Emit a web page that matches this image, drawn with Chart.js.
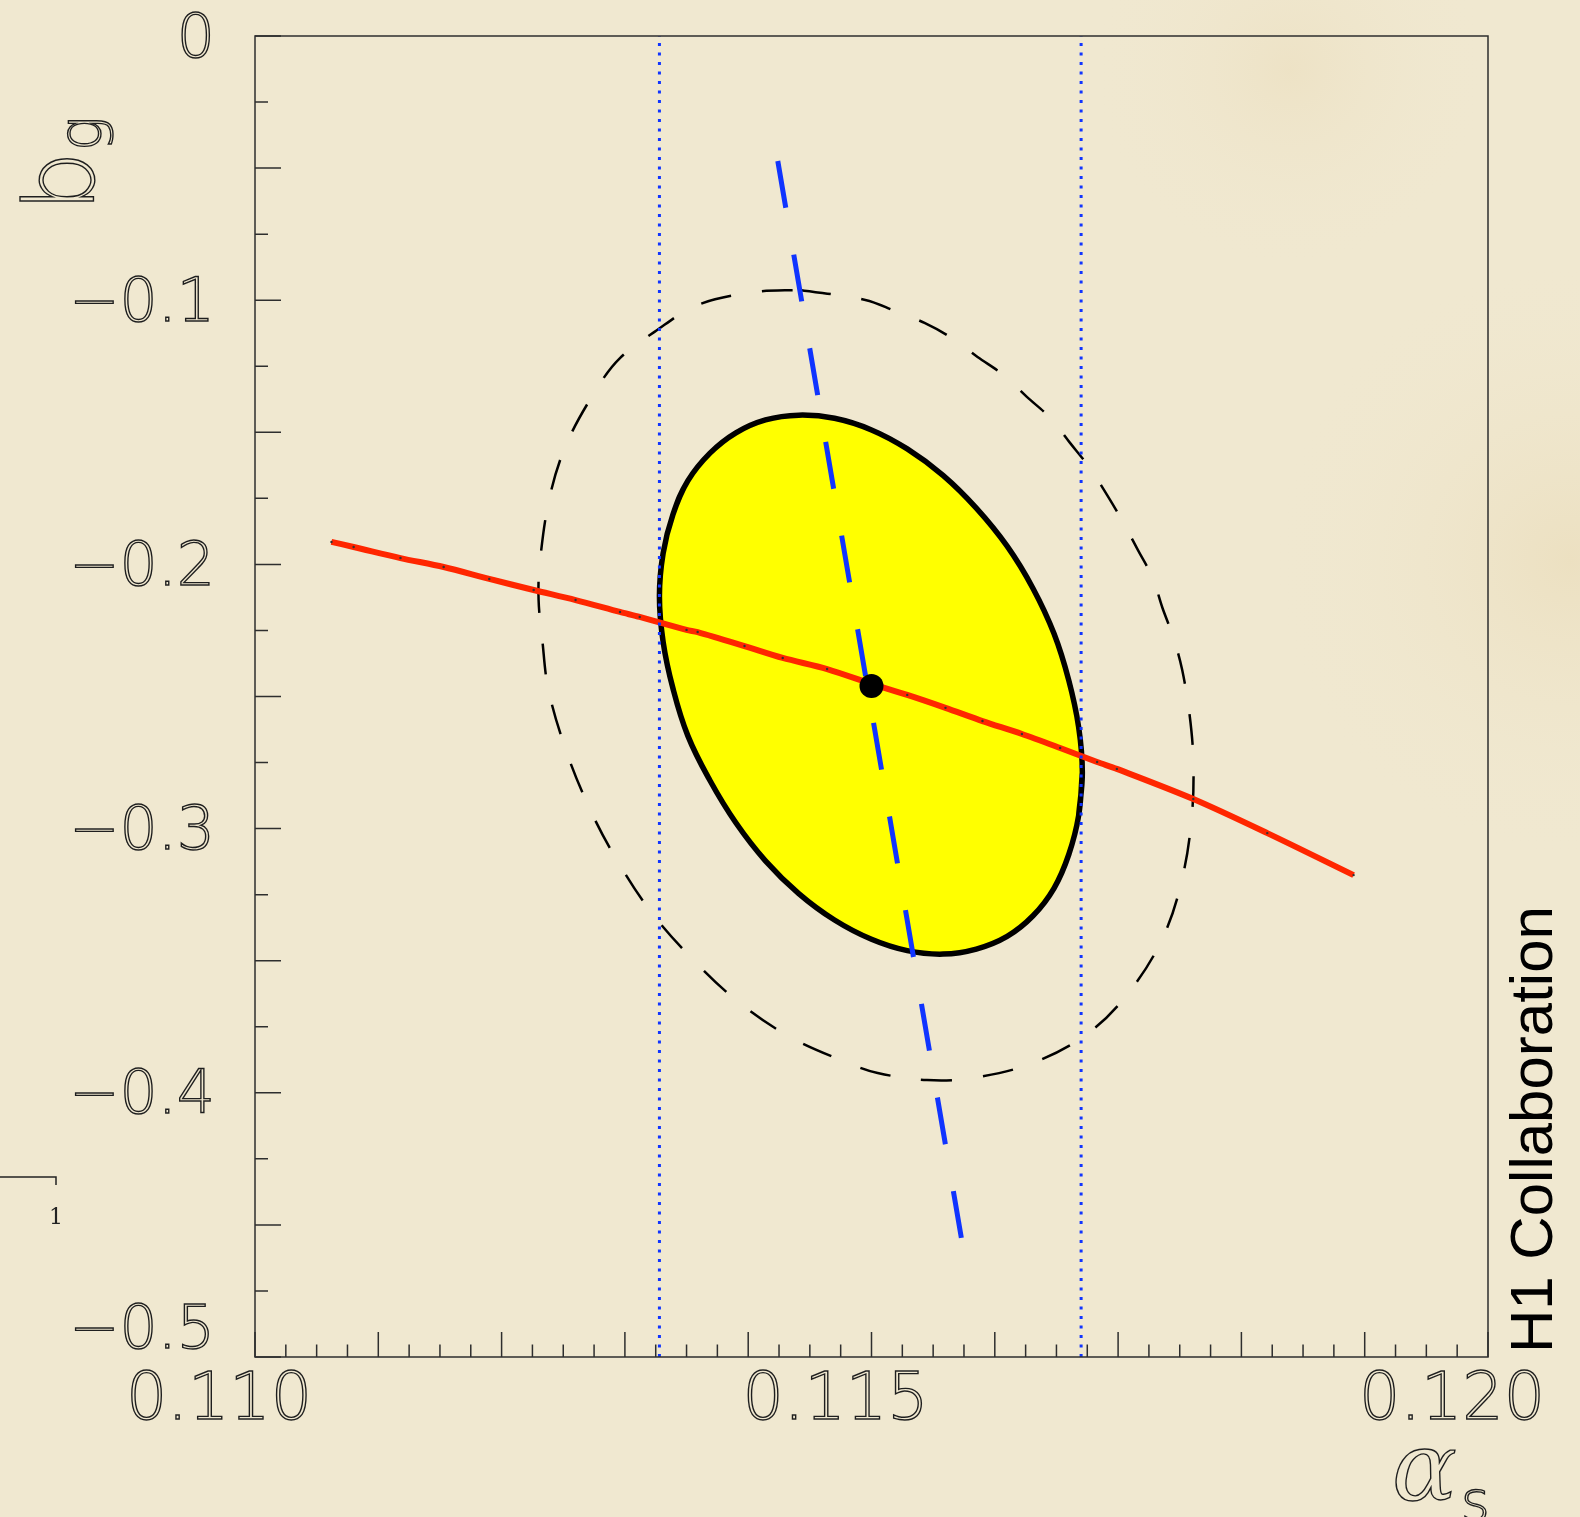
<!DOCTYPE html>
<html>
<head>
<meta charset="utf-8">
<script src="https://cdn.jsdelivr.net/npm/chart.js@4.4.1/dist/chart.umd.min.js"></script>
<style>
  html, body { margin: 0; padding: 0; background: #f0e8d0; overflow: hidden; }
  canvas { display: block; }
</style>
</head>
<body>
<canvas id="c" width="1580" height="1517"></canvas>
<script>
// ---------------- data ----------------
const alphaSRange = [0.110, 0.120];
const bgRange = [-0.5, 0];

const xTickValues = [0.110, 0.115, 0.120];
const xTickLabels = ['0.110', '0.115', '0.120'];
const yTickValues = [0, -0.1, -0.2, -0.3, -0.4, -0.5];
const yTickLabels = ['0', '\u22120.1', '\u22120.2', '\u22120.3', '\u22120.4', '\u22120.5'];

const xTitle = ['\u03B1', 's'];
const yTitle = ['b', 'g'];
const experimentLabel = 'H1 Collaboration';
const cornerMark = '1';

const bestFitAlphaS = [0.1150];
const bestFitBg = [-0.246];

const oneSigmaAlphaS = [0.11328, 0.11670];

const dashedBlueAlphaS = [0.11424, 0.11573];
const dashedBlueBg = [-0.0473, -0.4553];

const redAlphaS = [0.11062, 0.11080, 0.11118, 0.11153, 0.11190, 0.11226, 0.11260, 0.11296, 0.11312,
  0.11350, 0.11359, 0.11397, 0.11428, 0.11464, 0.11505, 0.11529, 0.11560, 0.11590, 0.11622,
  0.11653, 0.11683, 0.11699, 0.11761, 0.11821, 0.11891];
const redBg = [-0.1915, -0.1934, -0.1976, -0.2010, -0.2055, -0.2097, -0.2135, -0.2180, -0.2199,
  -0.2248, -0.2256, -0.2309, -0.2354, -0.2396, -0.2460, -0.2494, -0.2543, -0.2593, -0.2642,
  -0.2695, -0.2748, -0.2774, -0.2888, -0.3017, -0.3176];

// closed contour (last two points repeat the first two so the outline closes smoothly)
const ellipseAlphaS = [0.11671, 0.11668, 0.11660, 0.11648, 0.11631, 0.11610, 0.11585, 0.11558,
  0.11529, 0.11500, 0.11470, 0.11441, 0.11414, 0.11390, 0.11369, 0.11351, 0.11339, 0.11331,
  0.11328, 0.11331, 0.11339, 0.11351, 0.11369, 0.11390, 0.11414, 0.11441, 0.11470, 0.11500,
  0.11529, 0.11558, 0.11585, 0.11610, 0.11631, 0.11648, 0.11660, 0.11668, 0.11671, 0.11668];
const ellipseBg = [-0.2788, -0.2951, -0.3098, -0.3226, -0.3330, -0.3408, -0.3456, -0.3475,
  -0.3462, -0.3419, -0.3346, -0.3246, -0.3122, -0.2978, -0.2818, -0.2648, -0.2470, -0.2293,
  -0.2121, -0.1958, -0.1811, -0.1684, -0.1579, -0.1502, -0.1453, -0.1435, -0.1447, -0.1491,
  -0.1563, -0.1663, -0.1787, -0.1931, -0.2091, -0.2262, -0.2439, -0.2616, -0.2788, -0.2951];

const outerAlphaS = [0.11442, 0.11495, 0.11519, 0.11543, 0.11565, 0.11586, 0.11607, 0.11626, 0.11645,
  0.11661, 0.11677, 0.11691, 0.11704, 0.11716, 0.11728, 0.11736, 0.11745, 0.11752, 0.11758,
  0.11761, 0.11760, 0.11753, 0.11738, 0.11712, 0.11677, 0.11631, 0.11582, 0.11545, 0.11505,
  0.11481, 0.11434, 0.11392, 0.11354, 0.11320, 0.11292, 0.11272, 0.11253, 0.11238, 0.11233,
  0.11230, 0.11231, 0.11239, 0.11253, 0.11278, 0.11296, 0.11324, 0.11359, 0.11406, 0.11442];
const outerBg = [-0.0961, -0.0999, -0.1041, -0.1086, -0.1143, -0.1215, -0.1283, -0.1366, -0.1446,
  -0.1540, -0.1635, -0.1737, -0.1840, -0.1945, -0.2051, -0.2165, -0.2279, -0.2400, -0.2570,
  -0.2740, -0.2941, -0.3168, -0.3395, -0.3600, -0.3770, -0.3887, -0.3944, -0.3952, -0.3925,
  -0.3887, -0.3789, -0.3656, -0.3490, -0.3308, -0.3107, -0.2930, -0.2714, -0.2475, -0.2286,
  -0.2135, -0.1995, -0.1745, -0.1540, -0.1329, -0.1219, -0.1120, -0.1018, -0.0969, -0.0961];

// ---------------- helpers ----------------
const zip = (xs, ys) => xs.map((x, i) => ({ x: x, y: ys[i] }));
const near = (a, b) => Math.abs(a - b) < 1e-7;
const isMultiple = (v, step) => Math.abs(v / step - Math.round(v / step)) < 1e-4;

const AXIS_COLOR = '#2e2e2e';
const TEXT_STROKE = '#1e1e1e';
const BLUE = '#1034ff';

// background (paper)
const paperPlugin = {
  id: 'paper',
  beforeDraw(chart) {
    const ctx = chart.ctx, W = chart.width, H = chart.height;
    ctx.save();
    ctx.fillStyle = '#f0e8d0';
    ctx.fillRect(0, 0, W, H);
    const stains = [
      [1570, 560, 300, 'rgba(222,196,140,0.22)'],
      [1290, 70, 200, 'rgba(225,200,150,0.18)']
    ];
    stains.forEach(([x, y, r, c]) => {
      const g = ctx.createRadialGradient(x, y, 0, x, y, r);
      g.addColorStop(0, c);
      g.addColorStop(1, 'rgba(240,232,208,0)');
      ctx.fillStyle = g;
      ctx.fillRect(x - r, y - r, 2 * r, 2 * r);
    });
    ctx.restore();
  }
};

// frame + inward ticks from the library scales
const framePlugin = {
  id: 'frame',
  afterDatasetsDraw(chart) {
    const ctx = chart.ctx, a = chart.chartArea;
    const xs = chart.scales.x, ys = chart.scales.y;
    ctx.save();
    ctx.strokeStyle = AXIS_COLOR;
    ctx.lineWidth = 1.5;
    ctx.strokeRect(a.left, a.top, a.right - a.left, a.bottom - a.top);
    ctx.beginPath();
    xs.ticks.forEach(t => {
      const px = xs.getPixelForValue(t.value);
      const len = isMultiple(t.value, 0.001) ? 25 : 12.5;
      ctx.moveTo(px, a.bottom);
      ctx.lineTo(px, a.bottom - len);
    });
    ys.ticks.forEach(t => {
      const py = ys.getPixelForValue(t.value);
      const len = isMultiple(t.value, 0.05) ? 26 : 13;
      ctx.moveTo(a.left, py);
      ctx.lineTo(a.left + len, py);
    });
    ctx.stroke();
    ctx.restore();
  }
};

// axis titles and annotations
const textPlugin = {
  id: 'texts',
  afterDraw(chart) {
    const ctx = chart.ctx;
    ctx.save();
    ctx.strokeStyle = TEXT_STROKE;
    ctx.lineWidth = 1.4;
    ctx.textAlign = 'left';
    ctx.textBaseline = 'alphabetic';

    // y title  b_g  (rotated)
    ctx.save();
    ctx.translate(93, 212);
    ctx.rotate(-Math.PI / 2);
    ctx.font = '200 96px "DejaVu Sans"';
    ctx.strokeText(yTitle[0], 0, 0);
    const wb = ctx.measureText(yTitle[0]).width;
    ctx.font = '200 58px "DejaVu Sans"';
    ctx.strokeText(yTitle[1], wb, 8);
    ctx.restore();

    // x title  alpha_s
    ctx.font = 'italic 200 96px "DejaVu Serif"';
    ctx.strokeText(xTitle[0], 1392, 1500);
    const wa = ctx.measureText(xTitle[0]).width;
    ctx.font = '200 56px "DejaVu Sans"';
    ctx.strokeText(xTitle[1], 1392 + wa + 4, 1520);

    // H1 Collaboration
    ctx.save();
    ctx.translate(1552, 1353);
    ctx.rotate(-Math.PI / 2);
    ctx.fillStyle = '#000';
    ctx.font = '60px "Liberation Sans"';
    ctx.fillText(experimentLabel, 0, 0);
    ctx.restore();

    // small corner mark on the left edge
    ctx.strokeStyle = '#222';
    ctx.lineWidth = 1.5;
    ctx.beginPath();
    ctx.moveTo(0, 1177);
    ctx.lineTo(56, 1177);
    ctx.lineTo(56, 1185);
    ctx.stroke();
    ctx.fillStyle = '#222';
    ctx.font = '22px "DejaVu Serif"';
    ctx.textAlign = 'center';
    ctx.fillText(cornerMark, 56, 1224);
    ctx.restore();
  }
};

// ---------------- chart ----------------
const ctx = document.getElementById('c').getContext('2d');
new Chart(ctx, {
  type: 'scatter',
  data: {
    datasets: [
      {
        label: 'best fit',
        data: zip(bestFitAlphaS, bestFitBg),
        pointRadius: 12, pointBackgroundColor: '#000', pointBorderWidth: 0,
        showLine: false, order: 0
      },
      {
        label: 'alpha_s low',
        data: [{ x: oneSigmaAlphaS[0], y: bgRange[0] }, { x: oneSigmaAlphaS[0], y: bgRange[1] }],
        showLine: true, borderColor: BLUE, borderWidth: 3, borderDash: [3, 6.5],
        pointRadius: 0, order: 1
      },
      {
        label: 'alpha_s high',
        data: [{ x: oneSigmaAlphaS[1], y: bgRange[0] }, { x: oneSigmaAlphaS[1], y: bgRange[1] }],
        showLine: true, borderColor: BLUE, borderWidth: 3, borderDash: [3, 6.5],
        pointRadius: 0, order: 1
      },
      {
        label: 'blue dashed',
        data: zip(dashedBlueAlphaS, dashedBlueBg),
        showLine: true, borderColor: BLUE, borderWidth: 5, borderDash: [47.5, 47.5],
        pointRadius: 0, order: 2
      },
      {
        label: 'red curve',
        data: zip(redAlphaS, redBg),
        showLine: true, borderColor: '#ff2600', borderWidth: 6, tension: 0.3,
        pointRadius: 1.2, pointBackgroundColor: '#333', pointBorderWidth: 0, order: 3
      },
      {
        label: 'ellipse',
        data: zip(ellipseAlphaS, ellipseBg),
        showLine: true, borderColor: '#000', borderWidth: 5.5, tension: 0.4,
        fill: 'shape', backgroundColor: '#ffff00',
        pointRadius: 0, order: 4
      },
      {
        label: 'outer contour',
        data: zip(outerAlphaS, outerBg),
        showLine: true, borderColor: '#000', borderWidth: 2.5, borderDash: [31, 31], tension: 0.35,
        pointRadius: 0, order: 5
      }
    ]
  },
  options: {
    responsive: false,
    animation: false,
    devicePixelRatio: 1,
    layout: { padding: { left: 0, top: 36, right: 92, bottom: 0 } },
    plugins: { legend: { display: false }, tooltip: { enabled: false } },
    scales: {
      x: {
        type: 'linear', position: 'bottom',
        min: alphaSRange[0], max: alphaSRange[1],
        grid: { display: false, drawTicks: false },
        border: { display: false },
        ticks: {
          count: 41, autoSkip: false, maxRotation: 0, minRotation: 0,
          padding: 6, labelOffset: -36,
          color: 'rgba(0,0,0,0)', textStrokeColor: TEXT_STROKE, textStrokeWidth: 1.4,
          font: { family: 'DejaVu Sans', size: 65, weight: '200' },
          callback: (v) => {
            const i = xTickValues.findIndex(t => near(t, v));
            return i >= 0 ? xTickLabels[i] : '';
          }
        },
        afterFit: (s) => { s.height = 160; s.paddingLeft = 0; s.paddingRight = 0; }
      },
      y: {
        type: 'linear', position: 'left',
        min: bgRange[0], max: bgRange[1],
        grid: { display: false, drawTicks: false },
        border: { display: false },
        ticks: {
          count: 21, autoSkip: false, padding: 40, labelOffset: 5,
          color: 'rgba(0,0,0,0)', textStrokeColor: TEXT_STROKE, textStrokeWidth: 1.4,
          font: { family: 'DejaVu Sans', size: 60, weight: '200', lineHeight: 1.0 },
          callback: (v) => {
            const i = yTickValues.findIndex(t => near(t, v));
            if (i < 0) return '';
            return i === yTickValues.length - 1 ? [yTickLabels[i], ''] : yTickLabels[i];
          }
        },
        afterFit: (s) => { s.width = 255; s.paddingTop = 0; s.paddingBottom = 0; }
      }
    }
  },
  plugins: [paperPlugin, framePlugin, textPlugin]
});
</script>
</body>
</html>
